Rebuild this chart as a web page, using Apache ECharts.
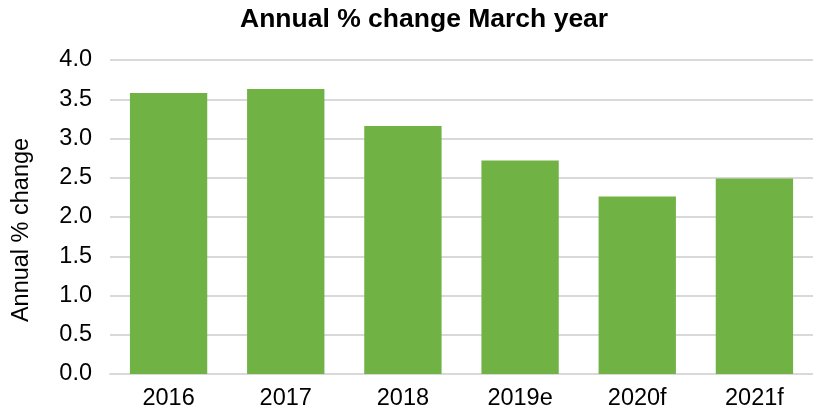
<!DOCTYPE html>
<html>
<head>
<meta charset="utf-8">
<script src="https://cdn.jsdelivr.net/npm/echarts@6/dist/echarts.min.js"></script>
<style>
	html, body { margin: 0; padding: 0; background: #fff; }
	#chart { width: 813px; height: 408px; }
</style>
</head>
<body>
<div id="chart"></div>
<script>
const categories = ['2016', '2017', '2018', '2019e', '2020f', '2021f']
const values = [3.58, 3.63, 3.16, 2.72, 2.26, 2.49]
const yTicks = { min: 0, max: 4, interval: 0.5 }

const font = '"Liberation Sans", Arial, sans-serif'
const myChart = echarts.init(document.getElementById('chart'))

const options = {
	animation: false,
	title: {
		text: 'Annual % change March year',
		left: 240,
		top: 6,
		padding: 0,
		textStyle: {
			fontFamily: font,
			fontSize: 26.5,
			fontWeight: 'bold',
			color: '#000',
		},
	},
	grid: {
		left: 110,
		right: 0,
		top: 60,
		bottom: 34,
		outerBoundsMode: 'none',
		containLabel: false,
	},
	xAxis: {
		type: 'category',
		data: categories,
		axisTick: { show: false },
		axisLine: { lineStyle: { color: '#d9d9d9', width: 2 } },
		axisLabel: {
			fontFamily: font,
			fontSize: 23.5,
			color: '#000',
			margin: 13,
		},
	},
	yAxis: {
		type: 'value',
		min: yTicks.min,
		max: yTicks.max,
		interval: yTicks.interval,
		name: 'Annual % change',
		nameLocation: 'middle',
		nameGap: 76,
		nameTextStyle: {
			fontFamily: font,
			fontSize: 23.5,
			color: '#000',
			// nudge the rotated label down a little
			padding: [0, 26, 0, 0],
		},
		axisLine: { show: false },
		axisTick: { show: false },
		axisLabel: {
			fontFamily: font,
			fontSize: 23.5,
			color: '#000',
			margin: 18,
			formatter: (v) => v.toFixed(1),
		},
		splitLine: { lineStyle: { color: '#d9d9d9', width: 2 } },
	},
	series: [
		{
			type: 'bar',
			data: values,
			barCategoryGap: '34%',
			itemStyle: { color: '#70b243' },
		},
	],
}
myChart.setOption(options)
</script>
</body>
</html>
